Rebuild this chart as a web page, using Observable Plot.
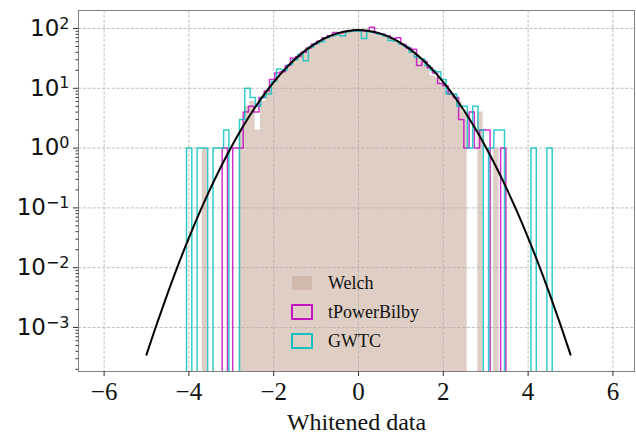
<!DOCTYPE html>
<html><head><meta charset="utf-8">
<script src="https://cdn.jsdelivr.net/npm/d3@7"></script>
<script src="https://cdn.jsdelivr.net/npm/@observablehq/plot@0.6"></script>
<style>
body{margin:0;background:#fff;}
#chart{position:relative;width:636px;height:435px;}
#chart svg g[aria-label="x-axis tick label"] text{font-family:"Liberation Serif",serif !important;font-size:25px !important;fill:#111;}
#chart svg g[aria-label="y-axis tick label"] text{font-family:"DejaVu Sans",sans-serif !important;font-size:23px !important;fill:#111;}
#chart svg g[aria-label="text"] text{font-family:"Liberation Serif",serif !important;font-size:24px !important;fill:#111;}
#chart svg g.legend text{font-family:"Liberation Serif",serif !important;font-size:18px !important;fill:#111;}
</style></head><body><div id="chart"></div>
<script>
// ---- data ----
const welchStart = -3.686, welchWidth = 0.125;
const welchCounts = [1,0,0,0,0,0,0,2,5,6,2,6,9,12,16,20,24,30,35,42,48,55,62,68,75,80,84,88,90,92,90,87,84,80,75,68,62,55,48,42,35,29,24,16,15,12,9,8,6,4,0,0,4,0,0,1];

const bilbyStart = -3.215, bilbyWidth = 0.1239;
const bilbyCounts = [1,0,1,1,4,5,4,7,9,14,18,19,24,32,34,40,47,55,61,70,76,86,85,89,91,93,92,90,105,84,80,76,68,70,54,47,45,24,28,22,18,12,11,8,7,3,1,4,1,2,2,0,0,1];

const gwtcStart = -4.057, gwtcWidth = 0.125;
const gwtcCounts = [1,0,1,1,0,1,1,2,0,0,3,10,7,5,7,8,13,21,20,25,30,37,29,49,56,60,70,76,78,75,88,91,90,68,88,86,80,75,63,62,55,50,40,33,31,24,20,19,14,8,8,5,5,1,5,2,0,1,2,2,0,0,0,0,0,1,0,0,1];

const curveX = [-5,-4.75,-4.5,-4.25,-4,-3.75,-3.5,-3.25,-3,-2.75,-2.5,-2.25,-2,-1.75,-1.5,-1.25,-1,-0.75,-0.5,-0.25,0,0.25,0.5,0.75,1,1.25,1.5,1.75,2,2.25,2.5,2.75,3,3.25,3.5,3.75,4,4.25,4.5,4.75,5];
const curveY = [0.000351,0.001185,0.00376,0.01124,0.0315,0.0831,0.2056,0.478,1.044,2.14,4.13,7.48,12.7,20.3,30.5,43.0,57.0,70.95,82.96,91.1,94,91.1,82.96,70.95,57.0,43.0,30.5,20.3,12.7,7.48,4.13,2.14,1.044,0.478,0.2056,0.0831,0.0315,0.01124,0.00376,0.001185,0.000351];

const xTicks = [-6,-4,-2,0,2,4,6];
const yTickExponents = [-3,-2,-1,0,1,2];
const legendLabels = ["Welch","tPowerBilby","GWTC"];
const xLabel = "Whitened data";

// ---- styles ----
const welchColor = "#c8ad9d", welchOpacity = 0.6;
const bilbyColor = "#bf00bf", gwtcColor = "#00bfbf";
const FLOOR = 1e-7;

function stepPoints(start, w, counts){
  const pts = [{x:start, y:FLOOR}];
  counts.forEach((c,i)=>pts.push({x:start+i*w, y:c>0?c:FLOOR}));
  const end = start + counts.length*w;
  const last = counts[counts.length-1];
  pts.push({x:end, y:last>0?last:FLOOR});
  pts.push({x:end, y:FLOOR});
  return pts;
}
function areaPoints(start, w, counts){
  const pts = counts.map((c,i)=>({x:start+i*w, y:c>0?c:FLOOR}));
  const last = counts[counts.length-1];
  pts.push({x:start+counts.length*w, y:last>0?last:FLOOR});
  return pts;
}
const curveData = curveX.map((x,i)=>({x, y:curveY[i]}));
const yMajor = yTickExponents.map(e=>Math.pow(10,e));
const yMinor = [];
for (let d=-4; d<=2; d++) for (let m=2; m<=9; m++){ const v=m*Math.pow(10,d); if (v>1.84e-4 && v<200) yMinor.push(v); }

const plot = Plot.plot({
  width: 636, height: 435,
  marginLeft: 78, marginRight: 2, marginTop: 10, marginBottom: 64,
  style: {fontFamily: "Liberation Serif", background: "white", color: "#222"},
  x: {domain: [-6.604, 6.509], label: null},
  y: {type: "log", domain: [1.837e-4, 200], label: null},
  marks: [
    Plot.area(areaPoints(welchStart, welchWidth, welchCounts), {x1:"x", y1:FLOOR, y2:"y", curve:"step-after", fill: welchColor, fillOpacity: welchOpacity, clip: true}),
    Plot.gridX(xTicks, {stroke:"#b0b0b0", strokeOpacity:1, strokeWidth:0.8, strokeDasharray:"3.2,1.6"}),
    Plot.gridY(yMajor, {stroke:"#b0b0b0", strokeOpacity:1, strokeWidth:0.8, strokeDasharray:"3.2,1.6"}),
    Plot.line(stepPoints(bilbyStart, bilbyWidth, bilbyCounts), {x:"x", y:"y", curve:"step-after", stroke: bilbyColor, strokeOpacity:0.8, strokeWidth:1.5, clip:true}),
    Plot.line(stepPoints(gwtcStart, gwtcWidth, gwtcCounts), {x:"x", y:"y", curve:"step-after", stroke: gwtcColor, strokeOpacity:0.8, strokeWidth:1.5, clip:true}),
    Plot.line(curveData, {x:"x", y:"y", stroke:"black", strokeWidth:2, curve:"catmull-rom", clip:true}),
    Plot.frame({stroke:"#808080", strokeWidth:1}),
    Plot.axisX(xTicks, {tickSize:5, tickPadding:6, label:null, stroke:"#333"}),
    Plot.axisY(yMajor, {tickSize:5, tickPadding:4, label:null, stroke:"#333",
      tickFormat: v => "10^" + Math.round(Math.log10(v))}),
    Plot.axisY(yMinor, {tickSize:2.5, label:null, stroke:"#333", tickFormat: () => ""}),
    Plot.text([xLabel], {frameAnchor:"bottom", dy:58, fill:"#111"})
  ]
});
document.getElementById("chart").appendChild(plot);

const svgEl = plot.tagName.toLowerCase()==="svg" ? plot : plot.querySelector("svg");
const svg = d3.select(svgEl);

// superscript exponents on y tick labels
svg.selectAll('g[aria-label="y-axis tick label"] text').each(function(){
  const t = this.textContent;
  if (!t || t.indexOf("10^")!==0) return;
  const e = t.slice(3).replace("-", "−");
  const sel = d3.select(this);
  sel.text("10");
  sel.append("tspan").attr("dy","-0.45em").style("font-size","16px").text(e);
});

// legend
const lg = svg.append("g").attr("class","legend").attr("text-anchor","start");
const rows = [276, 305, 334];
legendLabels.forEach((lab,i)=>{
  const r = lg.append("rect").attr("x",292).attr("y",rows[i]).attr("width",20).attr("height",14);
  if (i===0) r.attr("fill",welchColor).attr("fill-opacity",welchOpacity);
  else r.attr("fill","none").attr("stroke", i===1?bilbyColor:gwtcColor).attr("stroke-width",1.8);
  lg.append("text").attr("x",328).attr("y",rows[i]+13).attr("text-anchor","start").text(lab);
});
</script></body></html>
